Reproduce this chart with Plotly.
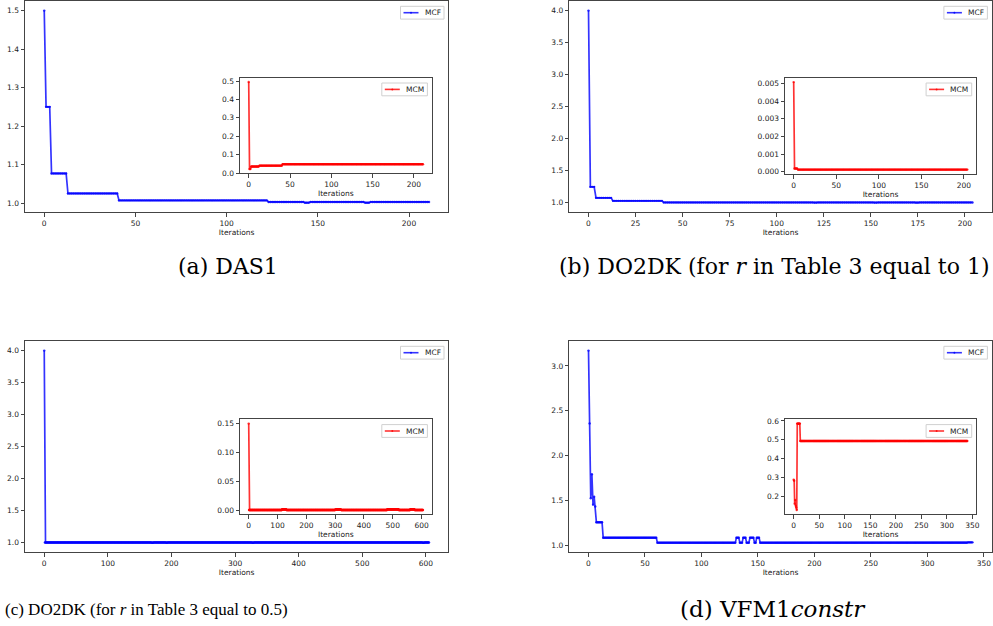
import numpy as np
import plotly.graph_objects as go

# ---------------- data (run-length encoded step series) ----------------
a_mcf_levels = [1.5, 1.25, 1.077, 1.025, 1.007, 1.003, 1.001, 1.003, 1.001, 1.003]
a_mcf_counts = [1, 3, 9, 28, 82, 20, 3, 30, 3, 33]
a_mcm_levels = [0.495, 0.022, 0.035, 0.040, 0.048]
a_mcm_counts = [1, 2, 10, 28, 171]

b_mcf_levels = [4.0, 1.244, 1.072, 1.025, 1.0, 0.996, 1.0, 0.996, 1.0, 0.996, 1.0]
b_mcf_counts = [1, 3, 9, 27, 80, 2, 30, 2, 20, 2, 29]
b_mcm_levels = [0.00508, 0.00018, 0.00012]
b_mcm_counts = [1, 4, 200]

c_mcf_levels = [4.0, 1.0, 0.996, 1.0, 0.996, 1.0, 0.996, 1.0, 0.996, 1.0]
c_mcf_counts = [1, 168, 3, 20, 2, 133, 3, 265, 3, 8]
c_mcm_levels = [0.15, 0.0003, 0.0015, 0.0003, 0.0012, 0.0003, 0.0015, 0.0003, 0.0015, 0.0003]
c_mcm_counts = [1, 115, 15, 170, 20, 160, 40, 40, 15, 30]

d_mcf_levels = [3.171, 2.358, 1.523, 1.79, 1.451, 1.54, 1.43, 1.254, 1.082, 1.026,
                1.082, 1.026, 1.082, 1.026, 1.082, 1.026, 1.082, 1.026, 1.03]
d_mcf_counts = [1, 1, 1, 1, 1, 1, 1, 6, 48, 70, 3, 3, 3, 3, 4, 2, 3, 184, 5]
d_mcm_levels = [0.288, 0.282, 0.16, 0.18, 0.15, 0.14, 0.127, 0.586, 0.494]
d_mcm_counts = [1, 1, 1, 1, 1, 1, 1, 6, 328]

captions = ["(a) DAS1",
            "(b) DO2DK (for <i>r</i> in Table 3 equal to 1)",
            "(c) DO2DK (for <i>r</i> in Table 3 equal to 0.5)",
            "(d) VFM1<i>constr</i>"]
main_name = "MCF"
inset_name = "MCM"
x_title = "Iterations"

# ---------------- layout geometry (pixels in a 993x626 canvas) ----------------
W, H = 993, 626
def fx(p): return p / W
def fy(p): return 1 - p / H

# (left, right, top, bottom) boxes
boxes = [
    (25, 448.3, 1, 212.3),      # a main
    (240, 431.7, 77.7, 173.3),  # a inset
    (569.3, 991.7, 1, 212.3),   # b main
    (785, 976, 77.7, 174),      # b inset
    (25, 448.3, 341, 552.3),    # c main
    (240, 431.7, 419.3, 514.3), # c inset
    (569.3, 991.7, 341, 552.3), # d main
    (785, 976, 419.3, 514.3),   # d inset
]
series = [
    (a_mcf_levels, a_mcf_counts), (a_mcm_levels, a_mcm_counts),
    (b_mcf_levels, b_mcf_counts), (b_mcm_levels, b_mcm_counts),
    (c_mcf_levels, c_mcf_counts), (c_mcm_levels, c_mcm_counts),
    (d_mcf_levels, d_mcf_counts), (d_mcm_levels, d_mcm_counts),
]
xdticks = [50, 50, 25, 50, 100, 100, 50, 50]
ydticks = [0.1, 0.1, 0.5, 0.001, 0.5, 0.05, 0.5, 0.1]
yfmts = [".1f", ".1f", ".1f", ".3f", ".1f", ".2f", ".1f", ".1f"]

fig = go.Figure()
FONT = "DejaVu Sans"
TF = 7.5
axis_col = "#444"
txt_col = "#222"

layout = dict(width=W, height=H, margin=dict(l=0, r=0, t=0, b=0, autoexpand=False),
              paper_bgcolor="white", plot_bgcolor="white", showlegend=False)
shapes = []
anns = []

for i, ((lv, ct), (l, r, t, b)) in enumerate(zip(series, boxes)):
    y = np.repeat(np.array(lv, dtype=float), ct)
    x = np.arange(len(y))
    n = i + 1
    sfx = "" if n == 1 else str(n)
    is_main = (i % 2 == 0)
    col = "rgba(0,0,255,0.8)" if is_main else "rgba(255,0,0,0.8)"
    name = main_name if is_main else inset_name
    fig.add_trace(go.Scatter(
        x=x, y=y, mode="lines+markers", name=name,
        line=dict(color=col, width=1.7), marker=dict(color=col, size=2.4),
        xaxis="x" + sfx, yaxis="y" + sfx))
    xmax = x[-1]
    ylo, yhi = y.min(), y.max()
    pad = 0.05 * (yhi - ylo)
    layout["xaxis" + sfx] = dict(
        domain=[fx(l), fx(r)], anchor="y" + sfx, range=[-0.05 * xmax, 1.05 * xmax],
        dtick=xdticks[i], tick0=0, showline=True, mirror=True, linecolor=axis_col,
        linewidth=1, ticks="outside", ticklen=3.5, tickcolor=axis_col, showgrid=False,
        zeroline=False, automargin=False,
        tickfont=dict(family=FONT, size=TF, color=txt_col),
        title=dict(text=x_title, font=dict(family=FONT, size=TF, color=txt_col), standoff=2))
    layout["yaxis" + sfx] = dict(
        domain=[fy(b), fy(t)], anchor="x" + sfx, range=[ylo - pad, yhi + pad],
        dtick=ydticks[i], tick0=0, tickformat=yfmts[i], showline=True, mirror=True,
        linecolor=axis_col, linewidth=1, ticks="outside", ticklen=3.5, tickcolor=axis_col,
        showgrid=False, zeroline=False, automargin=False,
        tickfont=dict(family=FONT, size=TF, color=txt_col))

    # inset background
    if not is_main:
        shapes.append(dict(type="rect", xref="paper", yref="paper", x0=fx(l), x1=fx(r),
                           y0=fy(b), y1=fy(t), fillcolor="white", line=dict(width=0),
                           layer="below"))
    # legend box (matplotlib style, upper right)
    lw_box = 43.5 if is_main else 45.6
    lx1 = r - 4.3
    lx0 = lx1 - lw_box
    ly0 = t + 5.3
    ly1 = ly0 + 12.8
    ymid = (ly0 + ly1) / 2
    shapes.append(dict(type="rect", xref="paper", yref="paper", x0=fx(lx0), x1=fx(lx1),
                       y0=fy(ly1), y1=fy(ly0), fillcolor="white",
                       line=dict(color="#d0d0d0", width=1), layer="above"))
    shapes.append(dict(type="line", xref="paper", yref="paper", x0=fx(lx0 + 3), x1=fx(lx0 + 18),
                       y0=fy(ymid), y1=fy(ymid), line=dict(color=col, width=1.6), layer="above"))
    shapes.append(dict(type="circle", xref="paper", yref="paper",
                       x0=fx(lx0 + 10.5 - 1), x1=fx(lx0 + 10.5 + 1),
                       y0=fy(ymid + 1), y1=fy(ymid - 1), fillcolor=col,
                       line=dict(width=0), layer="above"))
    anns.append(dict(text=name, x=fx(lx0 + 22), y=fy(ymid), xref="paper", yref="paper",
                     xanchor="left", yanchor="middle", showarrow=False,
                     font=dict(family=FONT, size=TF, color=txt_col)))

cap_specs = [
    (227.5, 266, "DejaVu Serif", 22),
    (773.5, 266, "DejaVu Serif", 22),
    (146.5, 609, "Liberation Serif", 17),
    (772.5, 609, "DejaVu Serif", 23),
]
for txt, (cx, cy, fam, fs) in zip(captions, cap_specs):
    anns.append(dict(text=txt, x=fx(cx), y=fy(cy), xref="paper", yref="paper",
                     xanchor="center", yanchor="middle", showarrow=False,
                     font=dict(family=fam, size=fs, color="black")))
layout["annotations"] = anns
layout["shapes"] = shapes
fig.update_layout(**layout)
fig.write_html("out.html", config={"displayModeBar": False},
               post_script="document.body.style.margin='0px';document.body.style.overflow='hidden';")
